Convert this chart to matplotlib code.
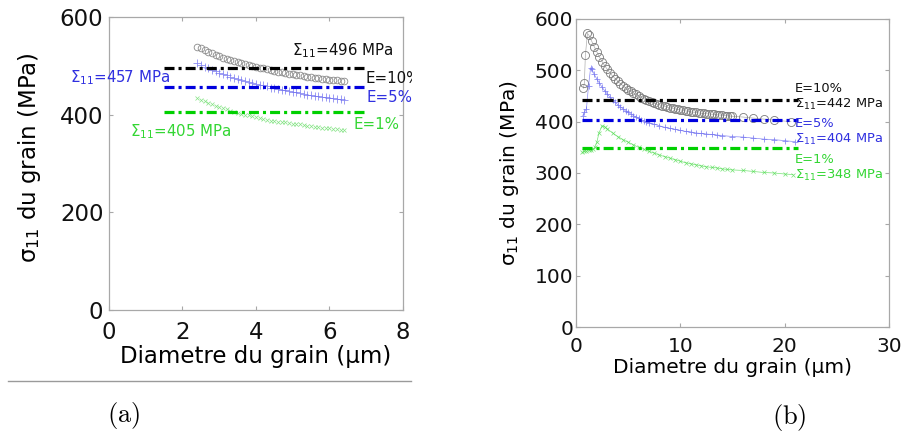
import matplotlib
matplotlib.use("Agg")
import matplotlib.pyplot as plt
from matplotlib.lines import Line2D
from matplotlib.transforms import Bbox, TransformedBbox

# ---- panel (a) : small grain range ----
a_d = [2.4, 2.5, 2.6, 2.7, 2.8, 2.9, 3.0, 3.1, 3.2, 3.3, 3.4, 3.5, 3.6, 3.7,
       3.8, 3.9, 4.0, 4.1, 4.2, 4.3, 4.4, 4.5, 4.6, 4.7, 4.8, 4.9, 5.0, 5.1,
       5.2, 5.3, 5.4, 5.5, 5.6, 5.7, 5.8, 5.9, 6.0, 6.1, 6.2, 6.3, 6.4]
a_e10 = [539, 536, 532, 529, 526, 523, 520, 517, 515, 512, 510, 508, 506, 504,
         502, 500, 498, 496, 495, 493, 491, 490, 488, 487, 486, 484, 483, 482,
         481, 479, 478, 477, 476, 475, 474, 473, 472, 471, 470, 469, 468]
a_e5 = [505, 502, 498, 495, 492, 489, 486, 483, 481, 478, 475, 473, 471, 469,
        467, 465, 463, 461, 460, 458, 455, 454, 452, 451, 450, 448, 447, 446,
        445, 443, 441, 440, 439, 438, 437, 436, 435, 434, 433, 432, 430]
a_e1 = [434, 431, 427, 424, 421, 418, 415, 413, 411, 408, 406, 404, 402, 400,
        399, 397, 395, 393, 392, 390, 388, 388, 386, 385, 384, 382, 381, 380,
        380, 378, 377, 376, 375, 374, 373, 373, 372, 371, 370, 369, 368]
a_sigma = [496, 457, 405]          # Sigma_11 macro, E = 10%, 5%, 1%

# ---- panel (b) : large grain range ----
b_d10 = [0.7, 0.8, 0.9, 1.1, 1.25, 1.5, 1.75, 2.0, 2.25, 2.5, 2.75, 3.0, 3.25,
         3.5, 3.75, 4.0, 4.25, 4.5, 4.75, 5.0, 5.25, 5.5, 5.75, 6.0, 6.25, 6.5,
         6.75, 7.0, 7.25, 7.5, 7.75, 8.0, 8.25, 8.5, 8.75, 9.0, 9.25, 9.5, 9.75,
         10.0, 10.25, 10.5, 10.75, 11.0, 11.25, 11.5, 11.75, 12.0, 12.25, 12.5,
         12.75, 13.0, 13.25, 13.5, 13.75, 14.0, 14.25, 14.5, 14.75, 15.0, 16.0,
         17.0, 18.0, 19.0, 20.6]
b_e10 = [465, 475, 530, 572, 568, 557, 546, 536, 526, 517, 509, 502, 495,
         489, 484, 479, 474, 470, 466, 462, 459, 456, 453, 450, 447, 445,
         442, 440, 438, 436, 434, 433, 431, 430, 428, 427, 426, 425, 424,
         423, 422, 421, 420, 419, 418.5, 418, 417, 416.5, 416, 415.5,
         415, 414.5, 414, 413.5, 413, 412.5, 412, 411.5, 411, 410.5, 409,
         407, 405, 403, 400]
b_d5 = [0.65, 0.8, 1.0, 1.2, 1.4, 1.5, 1.75, 2.0, 2.25, 2.5, 2.75, 3.0, 3.25,
        3.5, 3.75, 4.0, 4.25, 4.5, 4.75, 5.0, 5.25, 5.5, 5.75, 6.0, 6.25, 6.5,
        6.75, 7.0, 7.5, 8.0, 8.5, 9.0, 9.5, 10.0, 10.5, 11.0, 11.5, 12.0, 12.5,
        13.0, 13.5, 14.0, 15.0, 16.0, 17.0, 18.0, 19.0, 20.0, 21.0]
b_e5 = [412, 418, 425, 470, 505, 503, 492, 483, 475, 467, 460, 454, 448,
        443, 438, 433, 429, 425, 421, 418, 415, 412, 409, 407, 404, 402,
        400, 398, 395, 392, 389, 387, 385, 383, 381, 380, 378, 377, 376,
        375, 374, 373, 371, 370, 368, 366, 365, 363, 361]
b_d1 = [0.6, 0.8, 1.0, 1.2, 1.4, 1.6, 1.8, 2.0, 2.2, 2.5, 2.75, 3.0, 3.5, 4.0,
        4.5, 5.0, 5.5, 6.0, 6.5, 7.0, 7.5, 8.0, 8.5, 9.0, 9.5, 10.0, 10.5, 11.0,
        11.5, 12.0, 12.5, 13.0, 13.5, 14.0, 14.5, 15.0, 16.0, 17.0, 18.0, 19.0,
        20.0, 20.8]
b_e1 = [340, 343, 342, 345, 344, 346, 350, 360, 378, 392, 390, 386, 378, 371,
        365, 360, 355, 350, 346, 342, 339, 335, 332, 329, 326, 323, 320, 318,
        316, 314, 312, 311, 310, 308, 307, 306, 305, 303, 301, 300, 298, 297]
b_sigma = [442, 404, 348]

strains = ['E=10%', 'E=5%', 'E=1%']

W, H = 903, 436
plt.rcParams['lines.scale_dashes'] = False

fig = plt.figure(figsize=(W / 100, H / 100), dpi=100)

ax1 = fig.add_axes([109 / W, 1 - 310 / H, 294 / W, 293 / H])
ax2 = fig.add_axes([576 / W, 1 - 327 / H, 313 / W, 308 / H])

dashdot = (0, (7.2, 2.9, 2.2, 2.9))
line_cols = ['black', '#0000dd', '#00d000']
text_cols = ['#111111', '#3030e0', '#33d633']


def style_axes(ax, fs, xpad, ypad):
    for s in ax.spines.values():
        s.set_color('#a8a8a8')
        s.set_linewidth(0.9)
    ax.tick_params(direction='in', top=True, right=True, length=3,
                   color='#a8a8a8', labelsize=fs, labelcolor='#111111')
    ax.tick_params(axis='x', pad=xpad)
    ax.tick_params(axis='y', pad=ypad)


# ---- (a) ----
ax1.plot(a_d, a_e10, 'o', ms=4.8, mfc='none', mec='#8a8a8a', mew=0.6)
ax1.plot(a_d, a_e5, '+', ms=5.5, color='#6f6ff0', mew=0.6, alpha=0.8)
ax1.plot(a_d, a_e1, 'x', ms=2.8, color='#66dd66', mew=0.5, alpha=0.8)
for lvl, c in zip(a_sigma, line_cols):
    ax1.hlines(lvl, 1.5, 6.95, colors=c, lw=2.3, linestyles=dashdot)
ax1.set_xlim(0, 8)
ax1.set_ylim(0, 600)
ax1.set_xticks([0, 2, 4, 6, 8])
ax1.set_yticks([0, 200, 400, 600])
style_axes(ax1, 16.5, 8, 4)
ax1.set_xlabel(u'Diametre du grain (\u03bcm)', fontsize=16.5, va='center')
ax1.xaxis.set_label_coords(0.5, -0.16)
ax1.set_ylabel(r'$\mathrm{\sigma_{11}}$ du grain (MPa)', fontsize=16.5,
               va='center')
ax1.yaxis.set_label_coords(-0.269, 0.52)

clip_a = TransformedBbox(Bbox([[0, 0], [412 / W, 1]]), fig.transFigure)
a_texts = [
    (4.98, 522, r'$\Sigma_{11}$=%d MPa' % a_sigma[0], text_cols[0]),
    (6.97, 464, strains[0], text_cols[0]),
    (-1.06, 467, r'$\Sigma_{11}$=%d MPa' % a_sigma[1], text_cols[1]),
    (7.02, 425, strains[1], text_cols[1]),
    (6.64, 370, strains[2], text_cols[2]),
    (0.57, 355, r'$\Sigma_{11}$=%d MPa' % a_sigma[2], text_cols[2]),
]
for x, y, s, c in a_texts:
    t = ax1.text(x, y, s, color=c, fontsize=10.8, ha='left', va='baseline')
    t.set_clip_box(clip_a)
    t.set_clip_on(True)

# ---- (b) ----
ax2.plot(b_d10, b_e10, 'o-', ms=5.8, mfc='none', mec='#7a7a7a', mew=0.6,
         color='#b0b0b0', lw=0.5)
ax2.plot(b_d5, b_e5, '+-', ms=5, color='#6f6ff0', mew=0.6, lw=0.5, alpha=0.8)
ax2.plot(b_d1, b_e1, 'x-', ms=2.5, color='#55dd55', mew=0.5, lw=0.5,
         alpha=0.8)
for lvl, c in zip(b_sigma, line_cols):
    ax2.hlines(lvl, 0.6, 21.3, colors=c, lw=2.3, linestyles=dashdot)
ax2.set_xlim(0, 30)
ax2.set_ylim(0, 600)
ax2.set_xticks([0, 10, 20, 30])
ax2.set_yticks([0, 100, 200, 300, 400, 500, 600])
style_axes(ax2, 14.5, 7, 2)
ax2.set_xlabel(u'Diametre du grain (\u03bcm)', fontsize=14.5, va='center')
ax2.xaxis.set_label_coords(0.5, -0.133)
ax2.set_ylabel(r'$\mathrm{\sigma_{11}}$ du grain (MPa)', fontsize=14.5,
               va='center')
ax2.yaxis.set_label_coords(-0.211, 0.5)

b_texts = [
    (21.0, 458, strains[0], text_cols[0]),
    (21.0, 427, r'$\Sigma_{11}$=%d MPa' % b_sigma[0], text_cols[0]),
    (21.0, 390, strains[1], text_cols[1]),
    (21.0, 358, r'$\Sigma_{11}$=%d MPa' % b_sigma[1], text_cols[1]),
    (21.0, 320, strains[2], text_cols[2]),
    (21.0, 288, r'$\Sigma_{11}$=%d MPa' % b_sigma[2], text_cols[2]),
]
for x, y, s, c in b_texts:
    ax2.text(x, y, s, color=c, fontsize=9.4, ha='left', va='baseline')

# separator under (a) and sub-figure captions
fig.add_artist(Line2D([8 / W, 411 / W], [1 - 381 / H, 1 - 381 / H],
                      color='#9a9a9a', lw=1))
fig.text(124 / W, 1 - 415 / H, r'$\mathrm{(a)}$', math_fontfamily='cm',
         fontsize=19, ha='center', va='center')
fig.text(789 / W, 1 - 417 / H, r'$\mathrm{(b)}$', math_fontfamily='cm',
         fontsize=19, ha='center', va='center')

fig.savefig('out.png', dpi=100)
